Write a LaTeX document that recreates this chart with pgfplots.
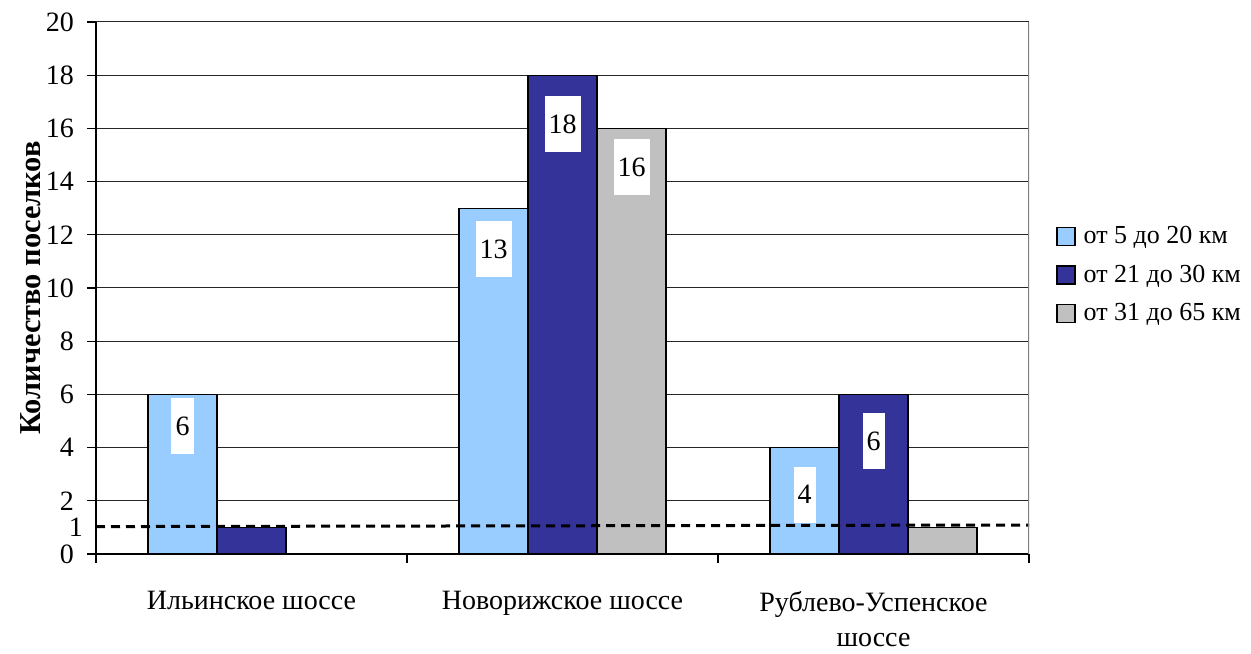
\documentclass[border=0pt]{standalone}
\usepackage{fontspec}
\setmainfont{Liberation Serif}
\usepackage{pgfplots}
\usepackage{pgfplotstable}
\pgfplotsset{compat=1.18}

\definecolor{lblue}{HTML}{99CCFF}
\definecolor{dblue}{HTML}{333399}
\definecolor{lgrey}{HTML}{C0C0C0}

% x: category index, y: value, off: label drop below bar top (pt), show: label visible
\pgfplotstableread{
x y off show
0 6 16 1
1 13 20.5 1
2 4 23.5 1
}\tabA
\pgfplotstableread{
x y off show
0 1 0 0
1 18 24.5 1
2 6 23.5 1
}\tabB
\pgfplotstableread{
x y off show
1 16 19.5 1
2 1 0 0
}\tabC

\newcommand{\chfont}{\fontsize{14}{17.5}\selectfont}

\pgfplotsset{
    mybar/.style={ybar, bar width=34.5pt, bar shift=#1, draw=black, line width=0.6pt,
        nodes near coords,
        visualization depends on={\thisrow{off} \as \off},
        visualization depends on={\thisrow{show} \as \show},
        every node near coord/.append style={anchor=center, xshift=#1, yshift=-\off pt, fill=white,
            fill opacity=\show, text opacity=\show, inner xsep=2pt, minimum height=28pt, font=\chfont}},
}

\begin{document}
\begin{tikzpicture}
\begin{axis}[
    scale only axis,
    width=466.5pt, height=266pt,
    xmin=-0.5, xmax=2.5,
    ymin=0, ymax=20,
    axis lines*=left,
    axis line style={black, line width=0.6pt},
    xtick={-0.5,0.5,1.5,2.5},
    xticklabels={},
    extra x ticks={0,1,2},
    extra x tick labels={Ильинское шоссе, Новорижское шоссе, {Рублево-Успенское\\шоссе}},
    extra x tick style={major tick length=0pt, grid=none},
    xticklabel style={align=center, font=\chfont, yshift=-15pt},
    ytick={0,2,...,20},
    extra y ticks={1},
    extra y tick style={major tick length=0pt, grid=none},
    yticklabel style={font=\chfont, xshift=-3pt},
    /pgf/number format/assume math mode=true,
    tick align=outside,
    major tick length=4.5pt,
    tick style={black, line width=0.6pt},
    ymajorgrids,
    grid style={black!85, line width=0.5pt},
    ylabel={\textbf{Количество поселков}},
    ylabel style={font=\fontsize{15.2}{18}\selectfont, at={(axis description cs:0,0.5)}, anchor=center, yshift=32.5pt},
    legend style={at={(1,0.5)}, anchor=west, xshift=10.5pt, yshift=6.5pt, draw=none, fill=none,
        font=\fontsize{13}{15.5}\selectfont, row sep=5pt, overlay,
        /tikz/every odd column/.append style={column sep=2pt}},
    legend cell align=left,
    legend image code/.code={\draw[#1, draw=black, line width=0.6pt] (0pt,-4.5pt) rectangle (9pt,4.5pt);},
]
\coordinate (o) at (rel axis cs:0,0);
\addplot[mybar=-34.5pt, fill=lblue] table[x=x, y=y] {\tabA};
\addlegendentry{от 5 до 20 км}
\addplot[mybar=0pt, fill=dblue] table[x=x, y=y] {\tabB};
\addlegendentry{от 21 до 30 км}
\addplot[mybar=34.5pt, fill=lgrey] table[x=x, y=y] {\tabC};
\addlegendentry{от 31 до 65 км}
\addplot[black, line width=1.5pt, dash pattern=on 4.5pt off 3pt, no marks, forget plot]
    coordinates {(-0.5,1.03) (2.5,1.09)};
\draw[gray, line width=0.6pt] (rel axis cs:1,0) -- (rel axis cs:1,1);
\end{axis}
\path (o) ++(-48pt,-46.5pt) rectangle ++(625.5pt,323.5pt);
\end{tikzpicture}
\end{document}
